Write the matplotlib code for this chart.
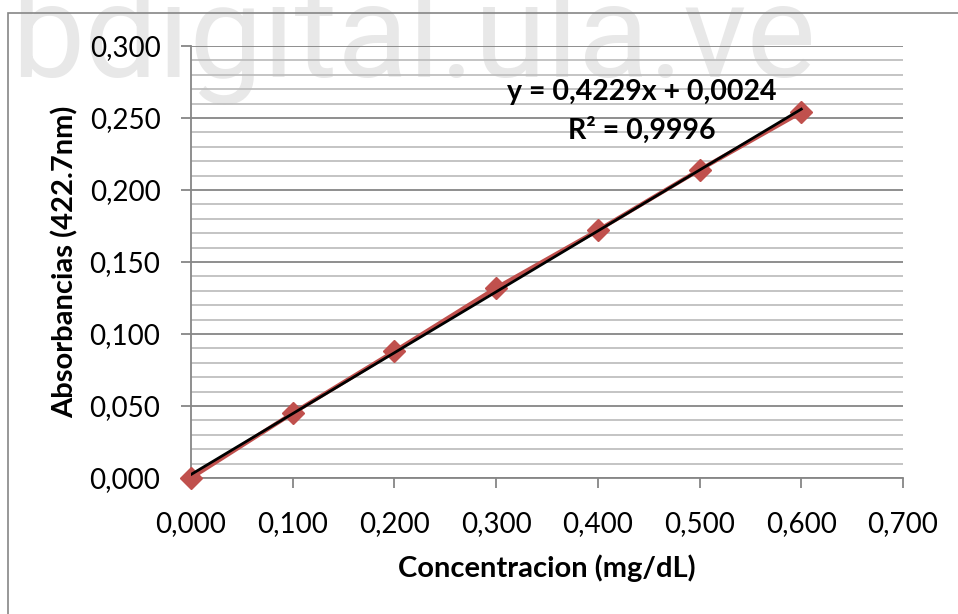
import numpy as np
import matplotlib.pyplot as plt
from matplotlib.ticker import MultipleLocator, FuncFormatter
from matplotlib.patches import Rectangle

# datos de la curva de calibracion
concentracion = [0.0, 0.1, 0.2, 0.3, 0.4, 0.5, 0.6]
absorbancia = [0.000, 0.045, 0.088, 0.132, 0.172, 0.214, 0.254]
ecuacion = "y = 0,4229x + 0,0024"
r2_texto = "R² = 0,9996"

plt.rcParams['font.family'] = ['Lato', 'DejaVu Sans']

fig = plt.figure(figsize=(9.58, 6.14), dpi=100)
ax = fig.add_axes([0.1994, 0.2215, 0.7432, 0.7036])
ax.patch.set_alpha(0)

# marca de agua (debajo de todo)
wm = fig.text(0.012, 0.875, "bdigital.ula.ve", fontsize=100, color="#e8e8e8",
              family="Roboto", ha="left", va="baseline", zorder=-2)
fig.canvas.draw()
w = wm.get_window_extent().width
wm.set_fontsize(100 * 805 / w)

# marco exterior
fig.patches.append(Rectangle((8 / 958, -0.1), 1.2, 1 - 13 / 614 + 0.1,
                             transform=fig.transFigure, fill=False,
                             edgecolor="#868686", lw=1.2, zorder=-1))

ax.set_xlim(0, 0.7)
ax.set_ylim(0, 0.3)
ax.xaxis.set_major_locator(MultipleLocator(0.1))
ax.yaxis.set_major_locator(MultipleLocator(0.05))
ax.yaxis.set_minor_locator(MultipleLocator(0.01))
fmt = FuncFormatter(lambda v, p: f"{v:.3f}".replace(".", ","))
ax.xaxis.set_major_formatter(fmt)
ax.yaxis.set_major_formatter(fmt)

ax.grid(axis="y", which="major", color="#868686", lw=1.3)
ax.grid(axis="y", which="minor", color="#bfbfbf", lw=1.3)
ax.set_axisbelow(True)

for s in ["top", "right"]:
    ax.spines[s].set_visible(False)
for s in ["left", "bottom"]:
    ax.spines[s].set_color("#868686")
    ax.spines[s].set_linewidth(1.3)

ax.tick_params(which="major", length=7, width=1.3, color="#868686",
               labelsize=20)
ax.tick_params(axis="x", pad=17)
ax.tick_params(axis="y", pad=15)
ax.tick_params(axis="y", which="minor", length=0)

ax.plot(concentracion, absorbancia, color="#c0504d", lw=3, marker="D",
        markersize=11, clip_on=False, zorder=3)

# linea de tendencia
m, b = np.polyfit(concentracion, absorbancia, 1)
xs = np.array([min(concentracion), max(concentracion)])
ax.plot(xs, m * xs + b, color="black", lw=2, zorder=4)

ax.text(0.4434, 0.268, ecuacion, fontsize=20.5, fontweight="bold",
        ha="center", va="center", zorder=5)
ax.text(0.4434, 0.2415, r2_texto, fontsize=20.5, fontweight="bold",
        ha="center", va="center", zorder=5)

ax.set_xlabel("Concentracion (mg/dL)", fontsize=21, fontweight="bold", labelpad=12)
ax.set_ylabel("Absorbancias (422.7nm)", fontsize=21, fontweight="bold", labelpad=8)

fig.savefig("out.png", dpi=100)
